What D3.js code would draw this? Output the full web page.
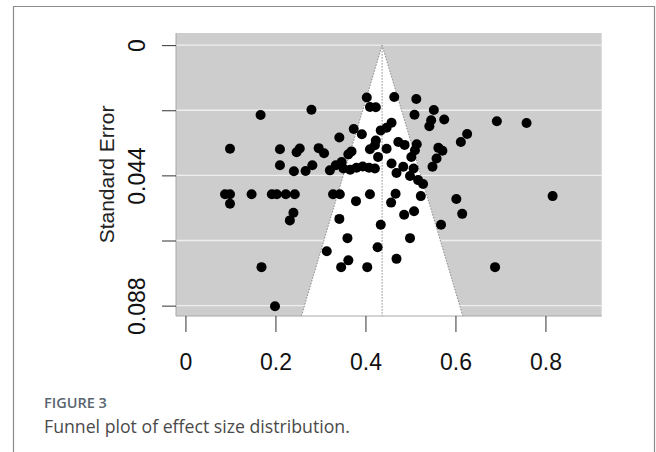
<!DOCTYPE html>
<html>
<head>
<meta charset="utf-8">
<script src="https://cdnjs.cloudflare.com/ajax/libs/d3/7.8.5/d3.min.js"></script>
<style>
  body { margin: 0; background: #fff; }
  svg { display: block; }
</style>
</head>
<body>
<script>
//effect sizes (x) and their standard errors (y)
var effectSize = [0.403, 0.464, 0.513, 0.410, 0.423, 0.280, 0.167, 0.552, 0.509, 0.575,
    0.546, 0.542, 0.692, 0.758, 0.626, 0.612, 0.458, 0.447, 0.434, 0.374,
    0.392, 0.342, 0.423, 0.421, 0.210, 0.247, 0.254, 0.296, 0.308, 0.369,
    0.362, 0.410, 0.428, 0.447, 0.473, 0.487, 0.514, 0.510, 0.502, 0.562,
    0.571, 0.558, 0.549, 0.099, 0.210, 0.241, 0.267, 0.282, 0.321, 0.334,
    0.347, 0.351, 0.366, 0.380, 0.394, 0.408, 0.421, 0.458, 0.484, 0.469,
    0.507, 0.499, 0.517, 0.528, 0.088, 0.099, 0.099, 0.147, 0.192, 0.203,
    0.223, 0.243, 0.328, 0.343, 0.379, 0.410, 0.467, 0.457, 0.523, 0.602,
    0.816, 0.240, 0.232, 0.342, 0.434, 0.508, 0.486, 0.615, 0.568, 0.360,
    0.499, 0.427, 0.314, 0.362, 0.346, 0.404, 0.469, 0.169, 0.688, 0.199];
var standardError = [0.0177, 0.0175, 0.0182, 0.0209, 0.0210, 0.0218, 0.0236, 0.0219, 0.0235, 0.0251,
    0.0254, 0.0274, 0.0257, 0.0263, 0.0300, 0.0327, 0.0262, 0.0279, 0.0288, 0.0283,
    0.0301, 0.0312, 0.0322, 0.0338, 0.0352, 0.0362, 0.0349, 0.0348, 0.0365, 0.0359,
    0.0369, 0.0352, 0.0378, 0.0350, 0.0327, 0.0337, 0.0335, 0.0355, 0.0378, 0.0347,
    0.0357, 0.0383, 0.0411, 0.0350, 0.0406, 0.0426, 0.0425, 0.0406, 0.0423, 0.0406,
    0.0395, 0.0417, 0.0421, 0.0414, 0.0410, 0.0414, 0.0417, 0.0400, 0.0411, 0.0432,
    0.0417, 0.0442, 0.0456, 0.0469, 0.0504, 0.0504, 0.0536, 0.0504, 0.0504, 0.0504,
    0.0504, 0.0504, 0.0504, 0.0504, 0.0527, 0.0504, 0.0502, 0.0532, 0.0510, 0.0520,
    0.0510, 0.0566, 0.0592, 0.0587, 0.0607, 0.0561, 0.0573, 0.0570, 0.0607, 0.0652,
    0.0652, 0.0683, 0.0696, 0.0727, 0.0750, 0.0750, 0.0722, 0.0750, 0.0750, 0.0882];

var pooledEstimate = 0.437;
var xTicks = [0, 0.2, 0.4, 0.6, 0.8];
var yTicks = [0, 0.022, 0.044, 0.066, 0.088];
var yTickLabels = ["0", "", "0.044", "", "0.088"];
var xLimits = [-0.021, 0.925];
var yLimits = [-0.0041, 0.0915];

var figureLabel = "FIGURE 3";
var figureCaption = "Funnel plot of effect size distribution.";

window.onload = drawFunnel();

function drawFunnel(){
    var width = 656,
        height = 452,
        margin = {top: 33, right: 54.3, bottom: 136, left: 176};

    var svg = d3.select("body")
        .append("svg")
        .attr("width", width)
        .attr("height", height);

    //frame around figure (open at the bottom)
    svg.append("path")
        .attr("d", "M13.5," + height + "V6.5H654.5V" + height)
        .attr("fill", "none")
        .attr("stroke", "#8c8c8c")
        .attr("stroke-width", 1.2);

    var x = d3.scaleLinear()
        .domain(xLimits)
        .range([margin.left, width - margin.right]);

    var y = d3.scaleLinear()
        .domain(yLimits)
        .range([margin.top, height - margin.bottom]);

    //gray background
    svg.append("rect")
        .attr("x", x(xLimits[0]))
        .attr("y", y(yLimits[0]))
        .attr("width", x(xLimits[1]) - x(xLimits[0]))
        .attr("height", y(yLimits[1]) - y(yLimits[0]))
        .attr("fill", "#cdcdcd");

    //white horizontal grid lines
    svg.selectAll(".grid")
        .data(yTicks)
        .enter()
        .append("line")
        .attr("class", "grid")
        .attr("x1", x(xLimits[0]))
        .attr("x2", x(xLimits[1]))
        .attr("y1", function(d){ return y(d); })
        .attr("y2", function(d){ return y(d); })
        .attr("stroke", "#efefef")
        .attr("stroke-width", 1.3);

    //funnel region: estimate +/- 1.96 * SE
    var seMax = yLimits[1];
    var funnel = [
        [pooledEstimate - 1.96 * seMax, seMax],
        [pooledEstimate, 0],
        [pooledEstimate + 1.96 * seMax, seMax]
    ];

    svg.append("path")
        .datum(funnel)
        .attr("d", d3.line()
            .x(function(d){ return x(d[0]); })
            .y(function(d){ return y(d[1]); }))
        .attr("fill", "#fff")
        .attr("stroke", "#8a8a8a")
        .attr("stroke-width", 1)
        .attr("stroke-dasharray", "1.5,1.5");

    svg.append("line")
        .attr("x1", x(pooledEstimate))
        .attr("x2", x(pooledEstimate))
        .attr("y1", y(0))
        .attr("y2", y(seMax))
        .attr("stroke", "#8a8a8a")
        .attr("stroke-width", 1)
        .attr("stroke-dasharray", "1.5,1.5");

    //left and bottom edge of plot region
    svg.append("path")
        .attr("d", "M" + x(xLimits[0]) + "," + y(yLimits[0]) + "V" + y(yLimits[1]) + "H" + x(xLimits[1]))
        .attr("fill", "none")
        .attr("stroke", "#a8a8a8")
        .attr("stroke-width", 1);

    //studies
    svg.selectAll(".study")
        .data(effectSize)
        .enter()
        .append("circle")
        .attr("class", "study")
        .attr("cx", function(d){ return x(d); })
        .attr("cy", function(d, i){ return y(standardError[i]); })
        .attr("r", 5)
        .attr("fill", "#000");

    //x axis (ticks hang below the plot region)
    var xAxis = svg.append("g")
        .attr("transform", "translate(0," + y(yLimits[1]) + ")")
        .call(d3.axisBottom(x)
            .tickValues(xTicks)
            .tickSize(16)
            .tickPadding(22)
            .tickFormat(d3.format("")));
    xAxis.select(".domain").remove();
    xAxis.selectAll("line").attr("stroke", "#333");
    xAxis.selectAll("text")
        .attr("font-family", "Liberation Sans, Arial, sans-serif")
        .attr("font-size", 23)
        .attr("fill", "#111");

    //y axis with rotated labels
    var yAxis = svg.append("g")
        .attr("transform", "translate(" + x(xLimits[0]) + ",0)")
        .call(d3.axisLeft(y)
            .tickValues(yTicks)
            .tickSize(14)
            .tickFormat(function(d, i){ return yTickLabels[i]; }));
    yAxis.select(".domain").remove();
    yAxis.selectAll("line").attr("stroke", "#333");
    yAxis.selectAll("text")
        .attr("x", null)
        .attr("dy", null)
        .attr("text-anchor", "middle")
        .attr("transform", "translate(-31,0) rotate(-90)")
        .attr("font-family", "Liberation Sans, Arial, sans-serif")
        .attr("font-size", 23)
        .attr("fill", "#111");

    svg.append("text")
        .attr("transform", "translate(114," + ((y(yLimits[0]) + y(yLimits[1])) / 2) + ") rotate(-90)")
        .attr("text-anchor", "middle")
        .attr("font-family", "Liberation Sans, Arial, sans-serif")
        .attr("font-size", 21)
        .attr("fill", "#222")
        .text("Standard Error");

    //caption
    svg.append("text")
        .attr("x", 44)
        .attr("y", 408)
        .attr("font-family", "Open Sans, sans-serif")
        .attr("font-size", 14.5)
        .attr("font-weight", 600)
        .attr("fill", "#5a6570")
        .text(figureLabel);

    svg.append("text")
        .attr("x", 44)
        .attr("y", 433)
        .attr("font-family", "Open Sans, sans-serif")
        .attr("font-size", 17.7)
        .attr("fill", "#4a4a4a")
        .text(figureCaption);
};
</script>
</body>
</html>
